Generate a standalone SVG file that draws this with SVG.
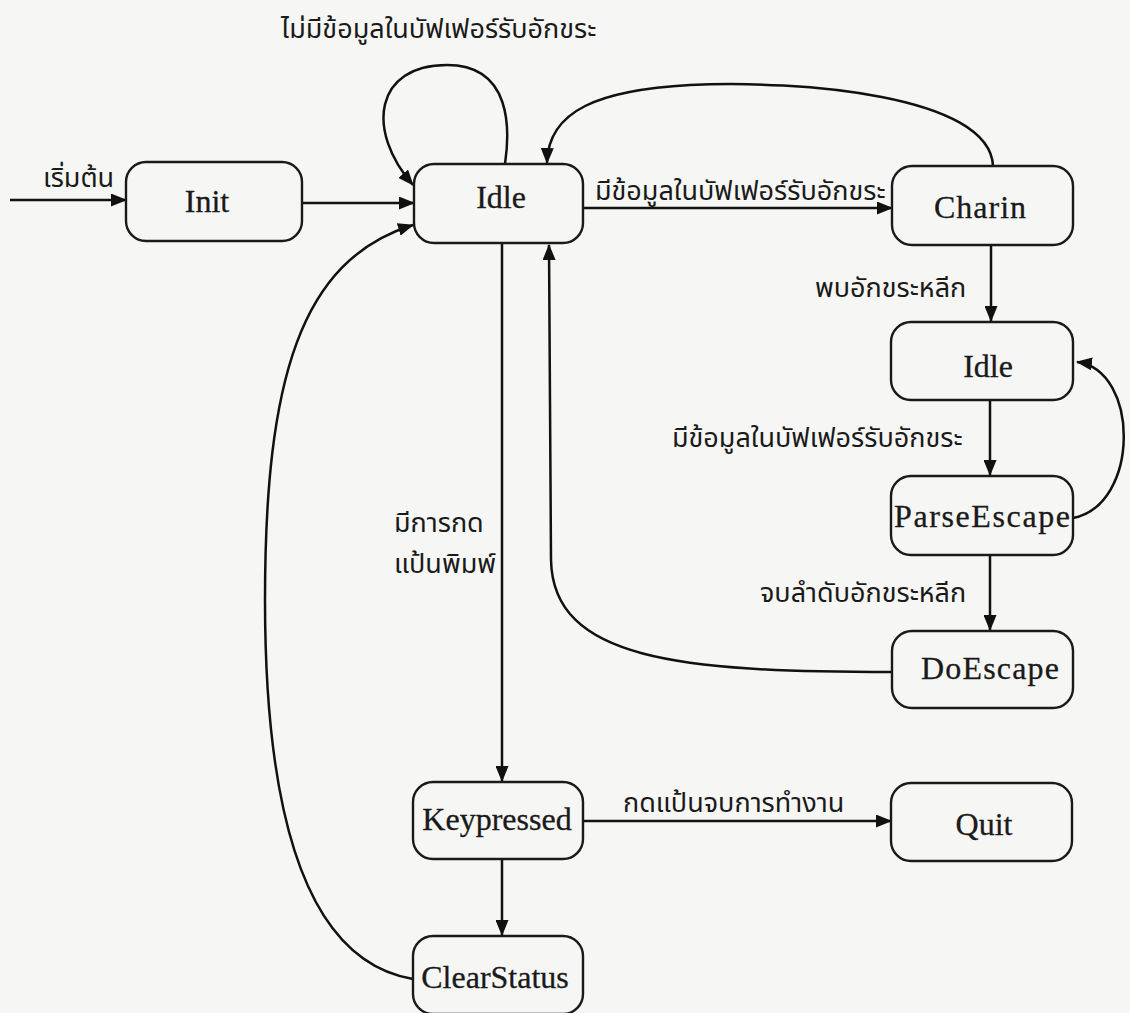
<svg xmlns="http://www.w3.org/2000/svg" width="1130" height="1013" viewBox="0 0 1130 1013">
<defs>
<marker id="ah" viewBox="0 0 16 13" refX="15" refY="6.5" markerWidth="16" markerHeight="13" markerUnits="userSpaceOnUse" orient="auto">
<path d="M0,0 L16,6.5 L0,13 Z" fill="#111"/>
</marker>
<style>
.node rect{fill:none;stroke:#1a1a1a;stroke-width:2.4}
.node text{font-family:"Liberation Serif","Times New Roman",serif;font-size:32px;fill:#1a1a1a;text-anchor:middle;stroke:#1a1a1a;stroke-width:0.3}
.edge{fill:none;stroke:#111;stroke-width:2.5;marker-end:url(#ah)}
.lbl{font-family:"Noto Sans Thai","Noto Sans","DejaVu Sans",sans-serif;font-size:27px;fill:#1a1a1a}
</style>
</defs>
<rect width="1130" height="1013" fill="#f6f6f4"/>
<g id="connectors">
<path class="edge" d="M10,200 L126,200"/>
<path class="edge" d="M302,203 L414,203"/>
<path class="edge" d="M505,164 C510,130 512,65 447,65 C375,65 365,130 413,185"/>
<path class="edge" d="M583,208 L892,208"/>
<path class="edge" d="M993,166 C990,95 800,80 690,85 C600,90 548,110 547,163"/>
<path class="edge" d="M502,243 L502,781"/>
<path class="edge" d="M502,859 L502,935"/>
<path class="edge" d="M583,821 L891,821"/>
<path class="edge" d="M413,979 C300,960 265,800 265,600 C265,380 300,260 413,225"/>
<path class="edge" d="M991,245 L991,321"/>
<path class="edge" d="M990,400 L990,475"/>
<path class="edge" d="M1073,518 C1140,505 1140,370 1077,362"/>
<path class="edge" d="M990,555 L990,630"/>
<path class="edge" d="M892,672 C680,672 553,660 551,560 L549,245"/>
</g>
<g id="labels">
<text class="lbl" x="43" y="187">เริ่มต้น</text>
<text class="lbl" x="281" y="38">ไม่มีข้อมูลในบัฟเฟอร์รับอักขระ</text>
<text class="lbl" x="595" y="200">มีข้อมูลในบัฟเฟอร์รับอักขระ</text>
<text class="lbl" x="815" y="297">พบอักขระหลีก</text>
<text class="lbl" x="672" y="447">มีข้อมูลในบัฟเฟอร์รับอักขระ</text>
<text class="lbl" x="760" y="602">จบลำดับอักขระหลีก</text>
<text class="lbl" x="394" y="532">มีการกด</text>
<text class="lbl" x="394" y="573">แป้นพิมพ์</text>
<text class="lbl" x="623" y="812">กดแป้นจบการทำงาน</text>
</g>
<g id="node-init" class="node"><rect x="126" y="162" width="176" height="79" rx="20"/><text x="207" y="212">Init</text></g>
<g id="node-idle" class="node"><rect x="414" y="164" width="169" height="79" rx="20"/><text x="501" y="208">Idle</text></g>
<g id="node-charin" class="node"><rect x="892" y="166" width="181" height="79" rx="20"/><text x="980" y="218" textLength="92">Charin</text></g>
<g id="node-idle2" class="node"><rect x="891" y="322" width="182" height="78" rx="20"/><text x="988" y="377">Idle</text></g>
<g id="node-parseescape" class="node"><rect x="891" y="476" width="182" height="79" rx="20"/><text x="982" y="527" textLength="176">ParseEscape</text></g>
<g id="node-doescape" class="node"><rect x="892" y="631" width="181" height="77" rx="20"/><text x="990" y="679" textLength="138">DoEscape</text></g>
<g id="node-keypressed" class="node"><rect x="413" y="782" width="170" height="77" rx="20"/><text x="497" y="830">Keypressed</text></g>
<g id="node-quit" class="node"><rect x="891" y="783" width="181" height="78" rx="20"/><text x="984" y="835">Quit</text></g>
<g id="node-clearstatus" class="node"><rect x="413" y="936" width="170" height="78" rx="20"/><text x="495" y="988">ClearStatus</text></g>
</svg>
